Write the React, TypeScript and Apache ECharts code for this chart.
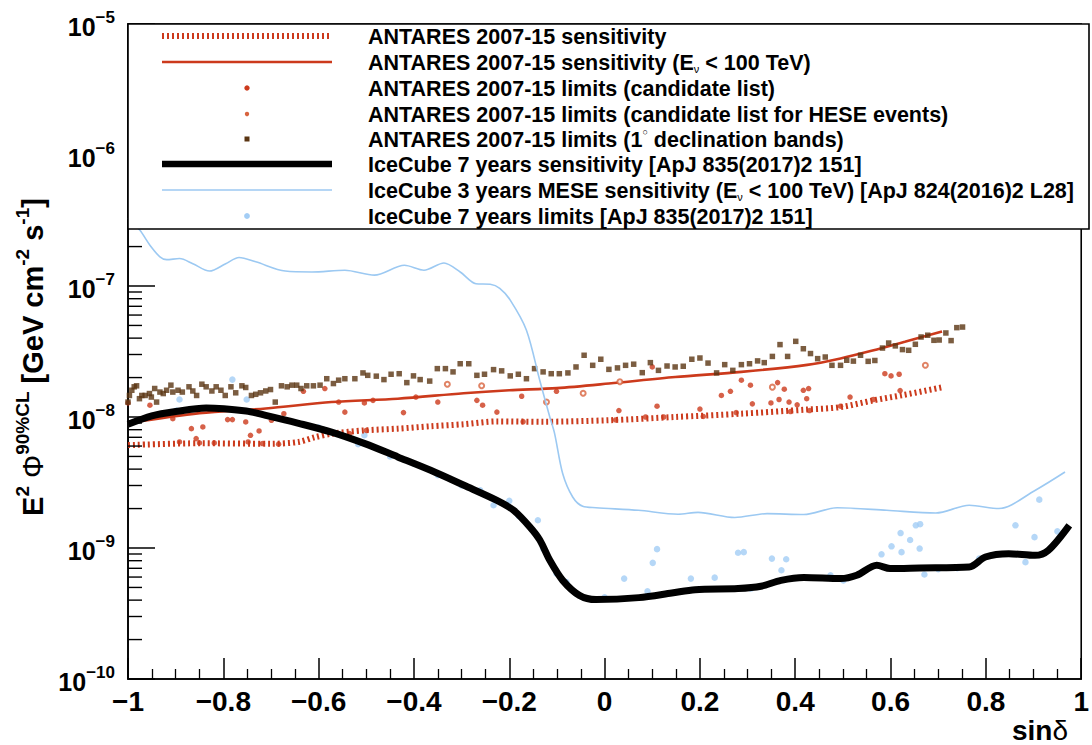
import React, { useEffect, useRef } from 'react';
import * as echarts from 'echarts';

const FONT = '"Liberation Sans", Arial, Helvetica, sans-serif';
const RED = '#cc3a1c';
const RED_LIGHT = '#d8643f';
const BROWN = '#5a3512';
const BLUE_LINE = '#9cc9f2';
const BLUE_DOT = '#a3cdf5';

// x tick labels (sin delta)
const xTicks = [-1, -0.8, -0.6, -0.4, -0.2, 0, 0.2, 0.4, 0.6, 0.8, 1];
// y decades
const yDecades = [-10, -9, -8, -7, -6, -5];

// ANTARES 2007-15 sensitivity (dotted)
const antaresSens: [number, number][] = [
  [-1.0, 6.1e-9], [-0.85, 6.3e-9], [-0.7, 6.25e-9], [-0.642, 6.45e-9], [-0.608, 7.0e-9],
  [-0.573, 7.45e-9], [-0.504, 7.9e-9], [-0.434, 8.15e-9], [-0.365, 8.5e-9], [-0.296, 8.8e-9],
  [-0.226, 9.25e-9], [-0.129, 9.2e-9], [0.009, 9.45e-9], [0.148, 1.0e-8], [0.287, 1.06e-8],
  [0.425, 1.14e-8], [0.495, 1.19e-8], [0.564, 1.34e-8], [0.626, 1.47e-8], [0.71, 1.69e-8],
];

// ANTARES 2007-15 sensitivity (E < 100 TeV)
const antaresSensLow: [number, number][] = [
  [-1.0, 9.0e-9], [-0.85, 1.07e-8], [-0.711, 1.16e-8], [-0.573, 1.3e-8], [-0.434, 1.38e-8],
  [-0.296, 1.52e-8], [-0.2, 1.6e-8], [-0.1, 1.66e-8], [0.009, 1.8e-8], [0.148, 2.02e-8],
  [0.287, 2.21e-8], [0.425, 2.5e-8], [0.495, 2.8e-8], [0.56, 3.2e-8], [0.63, 3.75e-8], [0.708, 4.5e-8],
];

// ANTARES 2007-15 limits (candidate list)
const antaresCand: [number, number][] = [
  [-1.0, 1.28e-8], [-0.954, 1.23e-8], [-0.906, 9.7e-9], [-0.892, 6.45e-9], [-0.867, 8.15e-9],
  [-0.857, 6.84e-9], [-0.85, 6.34e-9], [-0.843, 8.39e-9], [-0.819, 6.34e-9], [-0.791, 9.55e-9],
  [-0.781, 9.55e-9], [-0.753, 9.16e-9], [-0.748, 6.45e-9], [-0.743, 7.25e-9], [-0.725, 7.82e-9],
  [-0.718, 6.27e-9], [-0.699, 9.44e-9], [-0.684, 6.2e-9], [-0.673, 1.06e-8], [-0.632, 1.57e-8],
  [-0.587, 1.65e-8], [-0.558, 1.3e-8], [-0.545, 1.09e-8], [-0.535, 7.47e-9], [-0.504, 1.28e-8],
  [-0.5, 7.9e-9], [-0.486, 1.34e-8], [-0.422, 1.08e-8], [-0.396, 1.42e-8], [-0.35, 1.3e-8],
  [-0.268, 1.34e-8], [-0.256, 1.23e-8], [-0.226, 1.09e-8], [-0.174, 1.44e-8], [-0.171, 9.2e-9],
  [-0.101, 1.57e-8], [0.023, 9.5e-9], [0.03, 1.12e-8], [0.086, 1.0e-8], [0.1, 2.41e-8],
  [0.11, 1.21e-8], [0.124, 1.0e-8], [0.2, 1.15e-8], [0.207, 1.01e-8], [0.245, 1.46e-8],
  [0.264, 1.57e-8], [0.276, 1.08e-8], [0.287, 1.91e-8], [0.306, 1.75e-8], [0.31, 1.26e-8],
  [0.349, 1.28e-8], [0.363, 1.83e-8], [0.366, 1.36e-8], [0.377, 1.63e-8], [0.387, 1.3e-8],
  [0.39, 1.1e-8], [0.404, 1.24e-8], [0.417, 1.6e-8], [0.424, 1.38e-8], [0.428, 1.65e-8],
  [0.43, 1.12e-8], [0.495, 1.21e-8], [0.515, 1.42e-8], [0.564, 1.36e-8], [0.588, 2.14e-8],
  [0.601, 2.06e-8], [0.618, 2.12e-8], [0.62, 1.59e-8],
];

// ANTARES 2007-15 limits (candidate list for HESE events)
const antaresHese: [number, number][] = [
  [-0.33, 1.78e-8], [-0.258, 1.73e-8], [-0.122, 1.3e-8], [-0.045, 1.52e-8],
  [0.032, 1.86e-8], [0.352, 1.69e-8], [0.673, 2.48e-8],
];

// ANTARES 2007-15 limits (1 deg declination bands)
const antaresBands: [number, number][] = [
  [-1.0, 1.3e-8], [-0.997, 1.46e-8], [-0.992, 1.6e-8], [-0.987, 1.7e-8], [-0.982, 1.73e-8],
  [-0.976, 1.38e-8], [-0.971, 1.46e-8], [-0.964, 1.46e-8], [-0.955, 1.51e-8], [-0.951, 1.42e-8],
  [-0.944, 1.65e-8], [-0.94, 1.3e-8], [-0.933, 1.55e-8], [-0.926, 1.51e-8], [-0.919, 1.6e-8],
  [-0.91, 1.75e-8], [-0.906, 1.55e-8], [-0.895, 1.6e-8], [-0.886, 1.55e-8], [-0.872, 1.7e-8],
  [-0.864, 1.58e-8], [-0.856, 1.46e-8], [-0.845, 1.78e-8], [-0.836, 1.7e-8], [-0.824, 1.58e-8],
  [-0.815, 1.7e-8], [-0.805, 1.6e-8], [-0.796, 1.46e-8], [-0.784, 1.7e-8], [-0.774, 1.53e-8],
  [-0.761, 1.73e-8], [-0.753, 1.68e-8], [-0.741, 1.46e-8], [-0.732, 1.49e-8], [-0.722, 1.53e-8],
  [-0.711, 1.58e-8], [-0.701, 1.62e-8], [-0.691, 1.3e-8], [-0.678, 1.73e-8], [-0.666, 1.7e-8],
  [-0.656, 1.75e-8], [-0.646, 1.75e-8], [-0.637, 1.65e-8], [-0.625, 1.73e-8], [-0.611, 1.73e-8],
  [-0.597, 1.75e-8], [-0.583, 1.96e-8], [-0.569, 1.8e-8], [-0.558, 1.91e-8], [-0.545, 1.96e-8],
  [-0.524, 1.96e-8], [-0.507, 2.17e-8], [-0.497, 2.08e-8], [-0.479, 2.05e-8], [-0.463, 1.93e-8],
  [-0.448, 2.12e-8], [-0.431, 2.14e-8], [-0.415, 1.83e-8], [-0.401, 2.06e-8], [-0.387, 1.93e-8],
  [-0.367, 1.88e-8], [-0.351, 2.34e-8], [-0.334, 2.34e-8], [-0.318, 2.21e-8], [-0.303, 2.55e-8],
  [-0.285, 2.55e-8], [-0.268, 2.08e-8], [-0.252, 2.12e-8], [-0.233, 2.3e-8], [-0.216, 2.25e-8],
  [-0.198, 2.06e-8], [-0.181, 2.12e-8], [-0.164, 1.96e-8], [-0.147, 2.34e-8], [-0.129, 2.21e-8],
  [-0.112, 2.14e-8], [-0.095, 2.14e-8], [-0.077, 2.17e-8], [-0.06, 2.41e-8], [-0.043, 2.96e-8],
  [-0.025, 2.48e-8], [-0.008, 2.76e-8], [0.009, 2.31e-8], [0.027, 2.37e-8], [0.044, 2.48e-8],
  [0.061, 2.53e-8], [0.079, 2.18e-8], [0.096, 2.6e-8], [0.113, 2.27e-8], [0.131, 2.45e-8],
  [0.148, 2.41e-8], [0.165, 2.44e-8], [0.183, 2.76e-8], [0.2, 2.82e-8], [0.217, 2.58e-8],
  [0.235, 2.17e-8], [0.252, 2.51e-8], [0.269, 2.27e-8], [0.287, 2.51e-8], [0.304, 2.55e-8],
  [0.321, 2.68e-8], [0.335, 2.6e-8], [0.352, 2.9e-8], [0.368, 3.57e-8], [0.384, 2.9e-8],
  [0.401, 3.78e-8], [0.417, 3.32e-8], [0.432, 3.05e-8], [0.447, 2.79e-8], [0.463, 2.87e-8],
  [0.477, 2.48e-8], [0.495, 2.48e-8], [0.508, 2.71e-8], [0.522, 2.67e-8], [0.537, 2.96e-8],
  [0.553, 2.66e-8], [0.567, 2.7e-8], [0.583, 3.36e-8], [0.596, 3.67e-8], [0.61, 3.49e-8],
  [0.625, 3.27e-8], [0.638, 3.23e-8], [0.652, 3.59e-8], [0.664, 4.08e-8], [0.678, 4.21e-8],
  [0.691, 3.85e-8], [0.702, 3.87e-8], [0.716, 4.38e-8], [0.727, 3.83e-8], [0.739, 4.81e-8],
  [0.751, 4.86e-8],
];

// IceCube 7 years sensitivity
const icecubeSens: [number, number][] = [
  [-1.0, 8.8e-9], [-0.95, 1.02e-8], [-0.9, 1.1e-8], [-0.836, 1.17e-8], [-0.752, 1.11e-8],
  [-0.711, 1.03e-8], [-0.642, 8.95e-9], [-0.573, 7.67e-9], [-0.503, 6.26e-9], [-0.434, 4.96e-9],
  [-0.365, 3.92e-9], [-0.295, 3.01e-9], [-0.226, 2.31e-9], [-0.191, 1.94e-9], [-0.157, 1.45e-9],
  [-0.136, 1.15e-9], [-0.115, 8.05e-10], [-0.088, 5.66e-10], [-0.053, 4.35e-10], [-0.018, 4.04e-10],
  [0.072, 4.18e-10], [0.141, 4.53e-10], [0.19, 4.81e-10], [0.28, 4.9e-10], [0.328, 5.1e-10],
  [0.37, 5.66e-10], [0.418, 5.95e-10], [0.495, 5.84e-10], [0.529, 6.19e-10], [0.571, 7.38e-10],
  [0.599, 6.97e-10], [0.661, 7.04e-10], [0.765, 7.16e-10], [0.799, 8.54e-10], [0.848, 9.05e-10],
  [0.903, 8.79e-10], [0.931, 9.6e-10], [0.975, 1.49e-9],
];

// IceCube 3 years MESE sensitivity (E < 100 TeV)
const icecubeMese: [number, number][] = [
  [-1.0, 3.3e-7], [-0.975, 2.66e-7], [-0.954, 2.05e-7], [-0.933, 1.67e-7], [-0.919, 1.59e-7],
  [-0.892, 1.62e-7], [-0.864, 1.48e-7], [-0.829, 1.3e-7], [-0.795, 1.48e-7], [-0.767, 1.65e-7],
  [-0.732, 1.53e-7], [-0.67, 1.3e-7], [-0.614, 1.28e-7], [-0.545, 1.32e-7], [-0.483, 1.21e-7],
  [-0.42, 1.44e-7], [-0.379, 1.32e-7], [-0.337, 1.5e-7], [-0.303, 1.28e-7], [-0.27, 1.04e-7],
  [-0.24, 1.03e-7], [-0.22, 9.6e-8], [-0.198, 7.8e-8], [-0.164, 4.6e-8], [-0.136, 1.9e-8],
  [-0.115, 1.0e-8], [-0.105, 7.5e-9], [-0.088, 3.7e-9], [-0.067, 2.45e-9], [-0.046, 2.08e-9],
  [-0.018, 2.03e-9], [0.071, 1.94e-9], [0.154, 1.81e-9], [0.196, 1.87e-9], [0.273, 1.71e-9],
  [0.341, 1.83e-9], [0.418, 1.8e-9], [0.488, 2.03e-9], [0.592, 1.94e-9], [0.695, 1.85e-9],
  [0.765, 2.12e-9], [0.827, 2.0e-9], [0.903, 2.75e-9], [0.966, 3.8e-9],
];

// IceCube 7 years limits
const icecubeLimits: [number, number][] = [
  [-0.95, 1.0e-8], [-0.898, 1.12e-8], [-0.892, 1.36e-8], [-0.781, 1.93e-8], [-0.751, 1.36e-8],
  [-0.7, 1.0e-8], [-0.6, 8.3e-9], [-0.517, 6.2e-9], [-0.504, 7.25e-9], [-0.45, 5.0e-9],
  [-0.4, 4.4e-9], [-0.35, 3.6e-9], [-0.3, 3.0e-9], [-0.261, 2.76e-9], [-0.233, 2.12e-9],
  [-0.2, 2.29e-9], [-0.18, 1.75e-9], [-0.14, 1.63e-9], [-0.129, 9.9e-10], [-0.101, 6.4e-10],
  [-0.08, 5.5e-10], [0.0, 4.2e-10], [0.041, 5.84e-10], [0.09, 4.67e-10], [0.101, 7.7e-10],
  [0.11, 9.8e-10], [0.15, 4.6e-10], [0.181, 5.84e-10], [0.231, 5.94e-10], [0.28, 9.2e-10],
  [0.292, 9.3e-10], [0.307, 4.9e-10], [0.351, 8.3e-10], [0.371, 6.77e-10], [0.381, 8.2e-10],
  [0.474, 6.2e-10], [0.501, 5.66e-10], [0.581, 8.95e-10], [0.602, 1.03e-9], [0.621, 1.3e-9],
  [0.623, 9.3e-10], [0.641, 1.15e-9], [0.653, 1.49e-9], [0.662, 1.52e-9], [0.661, 9.9e-10],
  [0.671, 6.27e-10], [0.7, 6.9e-10], [0.74, 7.0e-10], [0.786, 8.3e-10], [0.862, 1.49e-9],
  [0.883, 7.8e-10], [0.902, 1.21e-9], [0.912, 2.34e-9], [0.95, 1.34e-9],
];

// Minor log ticks (2..9 in each decade)
const yMinorTicks: [number, number][] = [];
for (let d = -10; d < -5; d++) {
  for (let k = 2; k <= 9; k++) yMinorTicks.push([-1, k * Math.pow(10, d)]);
}

const legendRows = [
  '{t|ANTARES 2007-15 sensitivity}',
  '{t|ANTARES 2007-15 sensitivity (E}{sub|ν}{t| < 100 TeV)}',
  '{t|ANTARES 2007-15 limits (candidate list)}',
  '{t|ANTARES 2007-15 limits (candidate list for HESE events)}',
  '{t|ANTARES 2007-15 limits (1}{sup|○}{t| declination bands)}',
  '{t|IceCube 7 years sensitivity [ApJ 835(2017)2 151]}',
  '{t|IceCube 3 years MESE sensitivity (E}{sub|ν}{t| < 100 TeV) [ApJ 824(2016)2 L28]}',
  '{t|IceCube 7 years limits [ApJ 835(2017)2 151]}',
];

export default function App() {
  const ref = useRef<HTMLDivElement>(null);
  useEffect(() => {
    if (!ref.current) return;
    const chart = echarts.init(ref.current, undefined, { renderer: 'svg' });

    const legY = [36, 62, 88, 114, 139, 164, 190, 216];
    const symX1 = 162, symX2 = 332, symXc = 247, textX = 368;
    const legendRich = {
      t: { fontSize: 21.5, fontWeight: 'bold', fontFamily: FONT, color: '#000', lineHeight: 24, verticalAlign: 'bottom' },
      sub: { fontSize: 11, fontWeight: 'normal', fontFamily: FONT, color: '#000', lineHeight: 8, verticalAlign: 'bottom' },
      sup: { fontSize: 9, fontWeight: 'normal', fontFamily: FONT, color: '#000', lineHeight: 10, verticalAlign: 'top' },
    };

    const graphic: any[] = [
      { type: 'rect', z: 100, shape: { x: 128, y: 24, width: 961, height: 205 },
        style: { fill: '#fff', stroke: '#000', lineWidth: 1.6 } },
      { type: 'line', z: 101, shape: { x1: symX1, y1: legY[0], x2: symX2, y2: legY[0] },
        style: { stroke: RED, lineWidth: 6, lineDash: [2, 3] } },
      { type: 'line', z: 101, shape: { x1: symX1, y1: legY[1], x2: symX2, y2: legY[1] },
        style: { stroke: RED, lineWidth: 2.6 } },
      { type: 'circle', z: 101, shape: { cx: symXc, cy: legY[2], r: 2.7 }, style: { fill: RED } },
      { type: 'circle', z: 101, shape: { cx: symXc, cy: legY[3], r: 2.2 }, style: { fill: RED_LIGHT } },
      { type: 'rect', z: 101, shape: { x: symXc - 2.5, y: legY[4] - 2.5, width: 5, height: 5 }, style: { fill: BROWN } },
      { type: 'line', z: 101, shape: { x1: symX1, y1: legY[5], x2: symX2, y2: legY[5] },
        style: { stroke: '#000', lineWidth: 6.5 } },
      { type: 'line', z: 101, shape: { x1: symX1, y1: legY[6], x2: symX2, y2: legY[6] },
        style: { stroke: BLUE_LINE, lineWidth: 1.6 } },
      { type: 'circle', z: 101, shape: { cx: symXc, cy: legY[7], r: 2.9 }, style: { fill: BLUE_DOT } },
    ];
    legendRows.forEach((txt, i) => {
      graphic.push({
        type: 'text', z: 102, x: textX, y: legY[i],
        style: { text: txt, rich: legendRich, align: 'left', verticalAlign: 'middle',
          fontSize: 21.5, fontWeight: 'bold', fontFamily: FONT, fill: '#000' },
      });
    });
    // y-axis title
    graphic.push({
      type: 'text', z: 102, x: 30, y: 357, rotation: Math.PI / 2,
      style: {
        text: '{b|E}{s|2}{b| }{p|Φ}{s|90%CL}{b| [GeV cm}{s|-2}{b| s}{s|-1}{b|]}',
        align: 'center', verticalAlign: 'middle',
        rich: {
          b: { fontSize: 29, fontWeight: 'bold', fontFamily: FONT, color: '#000', lineHeight: 34, verticalAlign: 'bottom' },
          p: { fontSize: 29, fontWeight: 'normal', fontFamily: FONT, color: '#000', lineHeight: 34, verticalAlign: 'bottom' },
          s: { fontSize: 19, fontWeight: 'bold', fontFamily: FONT, color: '#000', lineHeight: 14, verticalAlign: 'top' },
        },
      },
    });
    // x-axis title
    graphic.push({
      type: 'text', z: 102, x: 1068, y: 730,
      style: {
        text: '{b|sin}{d|δ}', align: 'right', verticalAlign: 'middle',
        rich: {
          b: { fontSize: 28, fontWeight: 'bold', fontFamily: FONT, color: '#000', lineHeight: 28 },
          d: { fontSize: 28, fontWeight: 'normal', fontFamily: FONT, color: '#000', lineHeight: 28 },
        },
      },
    });

    const option: any = {
      animation: false,
      backgroundColor: '#fff',
      grid: { left: 128, right: 3, top: 24, bottom: 66, show: true, borderColor: '#000', borderWidth: 1.6 },
      xAxis: {
        type: 'value', min: xTicks[0], max: xTicks[xTicks.length - 1], interval: 0.2,
        axisLine: { show: true, onZero: false, lineStyle: { color: '#000', width: 1.6 } },
        axisTick: { show: true, inside: true, length: 21, lineStyle: { color: '#000', width: 1.5 } },
        minorTick: { show: true, splitNumber: 4, length: 10, lineStyle: { color: '#000', width: 1.3 } },
        splitLine: { show: false },
        axisLabel: {
          margin: 8, color: '#000', fontSize: 28, fontWeight: 'bold', fontFamily: FONT,
          formatter: (v: number) => {
            const r = Math.round(v * 10) / 10;
            return r < 0 ? '−' + String(-r) : String(r);
          },
        },
      },
      yAxis: {
        type: 'log', logBase: 10, min: Math.pow(10, yDecades[0]), max: Math.pow(10, yDecades[yDecades.length - 1]),
        splitNumber: 5,
        axisLine: { show: true, onZero: false, lineStyle: { color: '#000', width: 1.6 } },
        axisTick: { show: true, inside: true, length: 27, lineStyle: { color: '#000', width: 1.5 } },
        splitLine: { show: false },
        axisLabel: {
          margin: 13,
          formatter: (v: number) => {
            const e = Math.round(Math.log10(v));
            return '{b|10}{s|' + (e < 0 ? '−' + (-e) : String(e)) + '}';
          },
          rich: {
            b: { fontSize: 25, fontWeight: 'bold', fontFamily: FONT, color: '#000', lineHeight: 30, verticalAlign: 'bottom' },
            s: { fontSize: 17, fontWeight: 'bold', fontFamily: FONT, color: '#000', lineHeight: 8, verticalAlign: 'top' },
          },
        },
      },
      series: [
        {
          type: 'custom', name: 'minorTicks', silent: true, z: 20, clip: false, data: yMinorTicks,
          renderItem: (params: any, api: any) => {
            const p = api.coord([api.value(0), api.value(1)]);
            return { type: 'line', shape: { x1: p[0], y1: p[1], x2: p[0] + 14, y2: p[1] },
              style: { stroke: '#000', lineWidth: 1.4 } };
          },
        },
        {
          type: 'scatter', name: 'IceCube 7 years limits', data: icecubeLimits, symbol: 'circle', symbolSize: 6.5,
          itemStyle: { color: BLUE_DOT }, z: 2,
        },
        {
          type: 'line', name: 'ANTARES 2007-15 sensitivity', data: antaresSens, showSymbol: false, smooth: 0.3,
          lineStyle: { color: RED, width: 6, type: [2, 3], cap: 'butt' }, z: 3,
        },
        {
          type: 'line', name: 'ANTARES 2007-15 sensitivity (E < 100 TeV)', data: antaresSensLow, showSymbol: false, smooth: 0.3,
          lineStyle: { color: RED, width: 2.6 }, z: 3,
        },
        {
          type: 'scatter', name: 'ANTARES 2007-15 limits (candidate list)', data: antaresCand, symbol: 'circle', symbolSize: 5.5,
          itemStyle: { color: RED }, z: 4,
        },
        {
          type: 'scatter', name: 'ANTARES 2007-15 limits (candidate list for HESE events)', data: antaresHese,
          symbol: 'emptyCircle', symbolSize: 5, itemStyle: { color: RED_LIGHT, borderColor: RED_LIGHT, borderWidth: 1.3 }, z: 4,
        },
        {
          type: 'scatter', name: 'ANTARES 2007-15 limits (1° declination bands)', data: antaresBands, symbol: 'rect', symbolSize: 5.5,
          itemStyle: { color: BROWN }, z: 4,
        },
        {
          type: 'line', name: 'IceCube 3 years MESE sensitivity', data: icecubeMese, showSymbol: false, smooth: 0.3,
          lineStyle: { color: BLUE_LINE, width: 1.6 }, z: 5,
        },
        {
          type: 'line', name: 'IceCube 7 years sensitivity', data: icecubeSens, showSymbol: false, smooth: 0.3,
          lineStyle: { color: '#000', width: 7 }, z: 6,
        },
      ],
      graphic,
    };
    chart.setOption(option);
    return () => chart.dispose();
  }, []);
  return <div ref={ref} style={{ position: 'absolute', left: 0, top: 0, width: 1092, height: 745 }} />;
}
